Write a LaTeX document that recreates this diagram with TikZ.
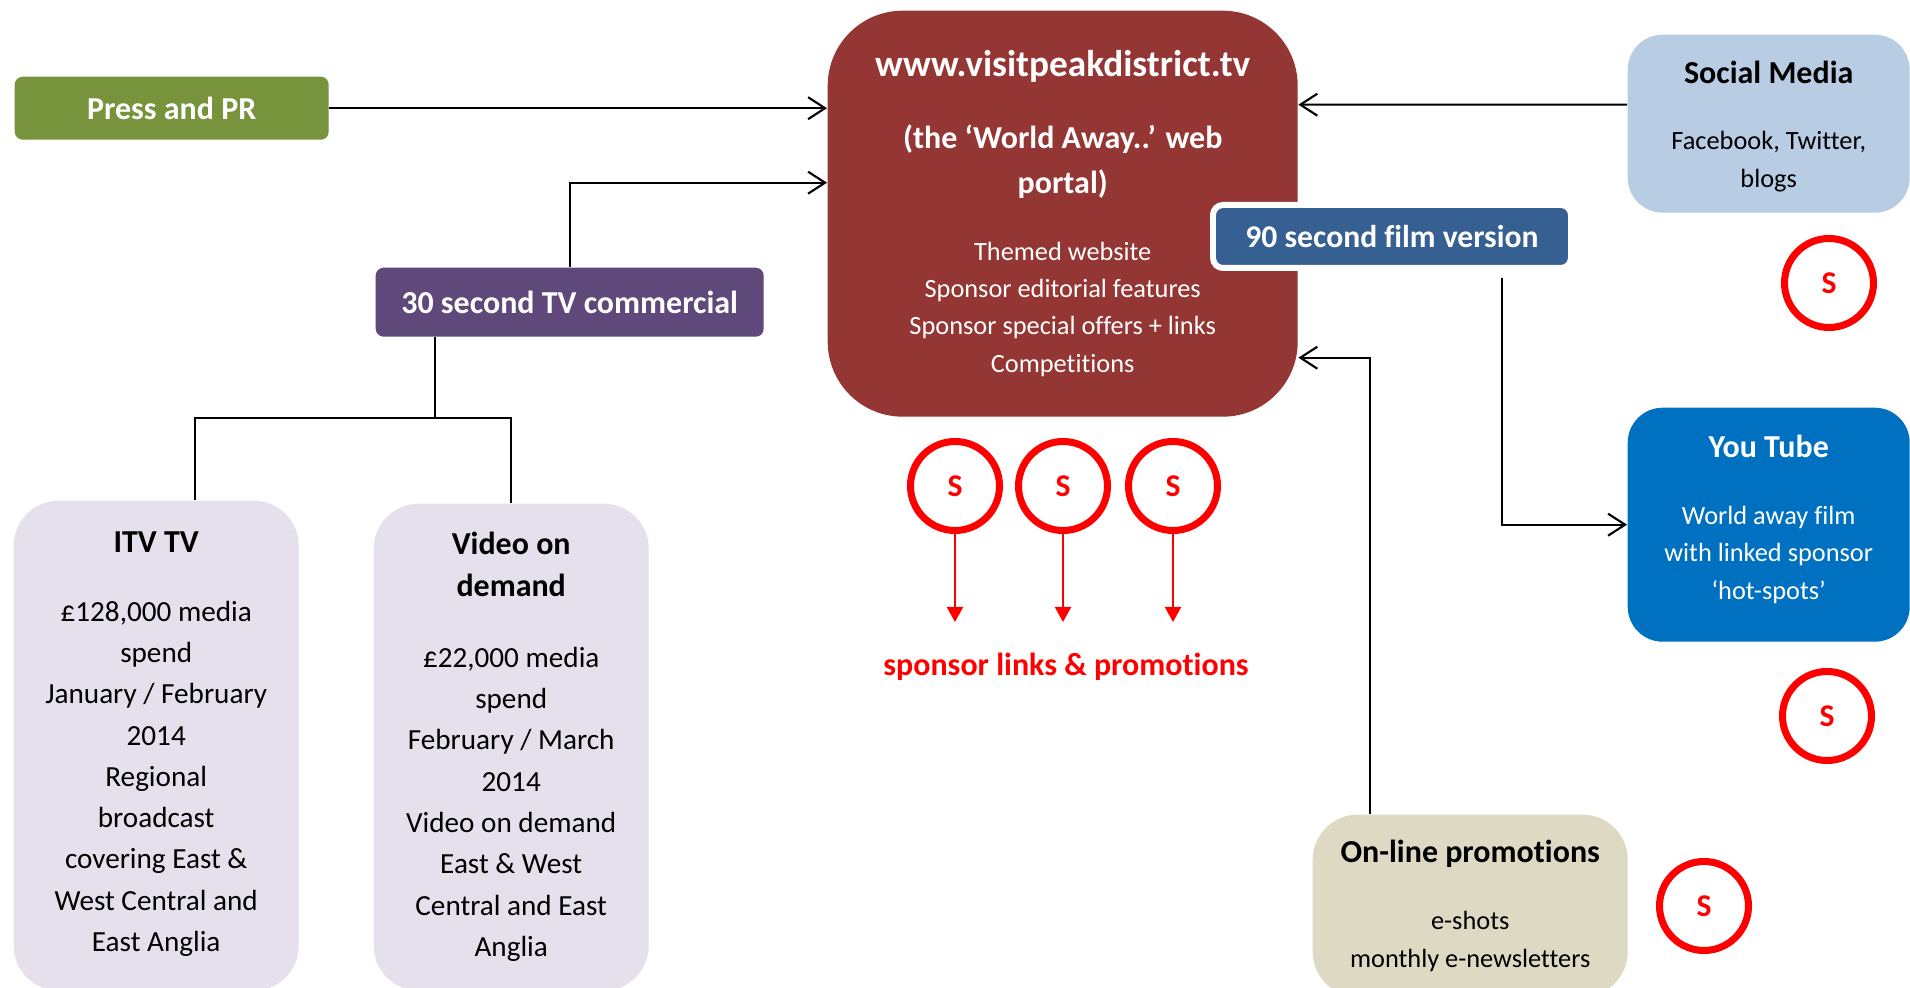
\documentclass[tikz,border=0pt]{standalone}
\usepackage{fontspec}
\setmainfont{Carlito}[Ligatures=NoCommon]
\usepackage{tikz}
\usetikzlibrary{calc,math,positioning,arrows.meta,shapes}

\definecolor{pressgreen}{HTML}{77933C}
\definecolor{tvpurple}{HTML}{5F497A}
\definecolor{portalred}{HTML}{943634}
\definecolor{filmblue}{HTML}{366092}
\definecolor{socialblue}{HTML}{B8CCE4}
\definecolor{tubeblue}{HTML}{0070C0}
\definecolor{tvlilac}{HTML}{E5E0EC}
\definecolor{onlinebeige}{HTML}{DDD9C3}

\begin{document}
\begin{tikzpicture}[
  boxshape/.style={rectangle,inner sep=0pt,anchor=north west},
  urltext/.style={font=\bfseries\fontsize{10.6}{12}\selectfont,anchor=mid,inner sep=0pt},
  boxtitle/.style={font=\bfseries\fontsize{9.1}{11}\selectfont,anchor=mid,inner sep=0pt},
  boxbody/.style={font=\fontsize{7.5}{9}\selectfont,anchor=mid,inner sep=0pt},
  bigbody/.style={font=\fontsize{8.3}{10}\selectfont,anchor=mid,inner sep=0pt},
  ln/.style={line width=0.6pt,draw=black},
  arrowln/.style={ln,-{Straight Barb[length=1.7mm,width=2.2mm]}},
  sponsorcircle/.style={circle,draw=red,line width=2pt,minimum size=0.89cm,inner sep=0pt,text=red,font=\bfseries\fontsize{9}{10}\selectfont},
  redarrow/.style={draw=red,line width=0.6pt,-{Triangle[length=1.5mm,width=1.6mm]}},
  ]

  \path[use as bounding box,fill=white] (0,0) rectangle (19.10,-9.88);

  % boxes
  \node (box_press) [boxshape,fill=pressgreen,rounded corners=0.08cm,minimum width=3.14cm,minimum height=0.63cm,text=white,font=\bfseries\fontsize{9.1}{11}\selectfont] at (0.14,-0.76) {Press and PR};
  \node (box_tv) [boxshape,fill=tvpurple,rounded corners=0.08cm,minimum width=3.88cm,minimum height=0.69cm,text=white,font=\bfseries\fontsize{9.1}{11}\selectfont] at (3.75,-2.67) {30 second TV commercial};
  \node (box_portal) [boxshape,fill=portalred,rounded corners=0.75cm,minimum width=4.70cm,minimum height=4.06cm] at (8.27,-0.10) {};
  \node (box_film) [boxshape,fill=filmblue,draw=white,line width=1.7pt,rounded corners=0.1cm,minimum width=3.58cm,minimum height=0.63cm,text=white,font=\bfseries\fontsize{9.0}{11}\selectfont] at (12.10,-2.02) {90 second film version};
  \node (box_social) [boxshape,fill=socialblue,rounded corners=0.35cm,minimum width=2.82cm,minimum height=1.78cm] at (16.27,-0.34) {};
  \node (box_tube) [boxshape,fill=tubeblue,rounded corners=0.35cm,minimum width=2.82cm,minimum height=2.34cm] at (16.27,-4.07) {};
  \node (box_itv) [boxshape,fill=tvlilac,rounded corners=0.45cm,minimum width=2.85cm,minimum height=4.90cm] at (0.13,-5.00) {};
  \node (box_vod) [boxshape,fill=tvlilac,rounded corners=0.45cm,minimum width=2.75cm,minimum height=4.87cm] at (3.73,-5.03) {};
  \node (box_online) [boxshape,fill=onlinebeige,rounded corners=0.45cm,minimum width=3.15cm,minimum height=1.82cm] at (13.12,-8.14) {};

  % portal text
  \node (portal_url) [urltext,text=white] at ($(box_portal.north)+(0,-0.58)$) {www.visitpeakdistrict.tv};
  \node (portal_sub_1) [boxtitle,text=white] at ($(box_portal.north)+(0,-1.30)$) {(the ‘World Away..’ web};
  \node (portal_sub_2) [boxtitle,text=white] at ($(box_portal.north)+(0,-1.75)$) {portal)};
  \foreach \txt [count=\i] in {Themed website,Sponsor editorial features,Sponsor special offers + links,Competitions}
  {
    \tikzmath{\dy = -2.42-0.373*(\i-1);}
    \node (portal_item_\i) [boxbody,text=white] at ($(box_portal.north)+(0,\dy)$) {\txt};
  }

  % social media
  \node (social_title) [boxtitle] at ($(box_social.north)+(0,-0.41)$) {Social Media};
  \node (social_item_1) [boxbody] at ($(box_social.north)+(0,-1.07)$) {Facebook, Twitter,};
  \node (social_item_2) [boxbody] at ($(box_social.north)+(0,-1.45)$) {blogs};

  % you tube
  \node (tube_title) [boxtitle,text=white] at ($(box_tube.north)+(0,-0.42)$) {You Tube};
  \foreach \txt [count=\i] in {World away film,with linked sponsor,‘hot-spots’}
  {
    \tikzmath{\dy = -1.09-0.375*(\i-1);}
    \node (tube_item_\i) [boxbody,text=white] at ($(box_tube.north)+(0,\dy)$) {\txt};
  }

  % itv
  \node (itv_title) [boxtitle] at ($(box_itv.north)+(0,-0.44)$) {ITV TV};
  \foreach \txt [count=\i] in {{£128,000 media},spend,{January / February},2014,Regional,broadcast,{covering East \&},{West Central and},{East Anglia}}
  {
    \tikzmath{\dy = -1.13-0.4125*(\i-1);}
    \node (itv_item_\i) [bigbody] at ($(box_itv.north)+(0,\dy)$) {\txt};
  }

  % video on demand
  \node (vod_title_1) [boxtitle] at ($(box_vod.north)+(0,-0.43)$) {Video on};
  \node (vod_title_2) [boxtitle] at ($(box_vod.north)+(0,-0.85)$) {demand};
  \foreach \txt [count=\i] in {{£22,000 media},spend,{February / March},2014,{Video on demand},{East \& West},{Central and East},Anglia}
  {
    \tikzmath{\dy = -1.56-0.413*(\i-1);}
    \node (vod_item_\i) [bigbody] at ($(box_vod.north)+(0,\dy)$) {\txt};
  }

  % on-line
  \node (online_title) [boxtitle] at ($(box_online.north)+(0,-0.40)$) {On-line promotions};
  \node (online_item_1) [boxbody] at ($(box_online.north)+(0,-1.07)$) {e-shots};
  \node (online_item_2) [boxbody] at ($(box_online.north)+(0,-1.45)$) {monthly e-newsletters};

  % sponsor circles
  \coordinate (sp_tips) at (0,-6.22);
  \foreach \x [count=\i] in {9.55,10.63,11.73}
  {
    \node (sp_\i) [sponsorcircle] at (\x,-4.86) {S};
    \draw[redarrow] (sp_\i.south) -- (sp_\i.south |- sp_tips);
  }
  \node (promo) [boxtitle,text=red] at (10.66,-6.67) {sponsor links \& promotions};

  \node (sp_social) [sponsorcircle] at (18.29,-2.83) {S};
  \node (sp_tube) [sponsorcircle] at (18.27,-7.16) {S};
  \node (sp_online) [sponsorcircle] at (17.04,-9.06) {S};

  % connectors
  \draw[arrowln] (box_press.east) -- (box_press.east -| box_portal.west);
  \draw[arrowln] (box_tv.north) |- ($(box_portal.west)+(0,0.31)$);
  \coordinate (tv_split) at ($(box_tv.south west)+(0.6,-0.81)$);
  \draw[ln] ($(box_tv.south west)+(0.6,0)$) -- (tv_split);
  \draw[ln] ($(box_itv.north west)+(1.82,0)$) |- (tv_split) -| (box_vod.north);
  \draw[arrowln] ($(box_social.west)+(0,0.19)$) -- ($(box_portal.east)+(0,1.09)$);
  \draw[arrowln] ($(box_film.south)+(1.10,-0.07)$) |- (box_tube.west);
  \draw[arrowln] ($(box_online.north)+(-1.005,0)$) |- ($(box_portal.east)+(0,-1.44)$);

\end{tikzpicture}
\end{document}
